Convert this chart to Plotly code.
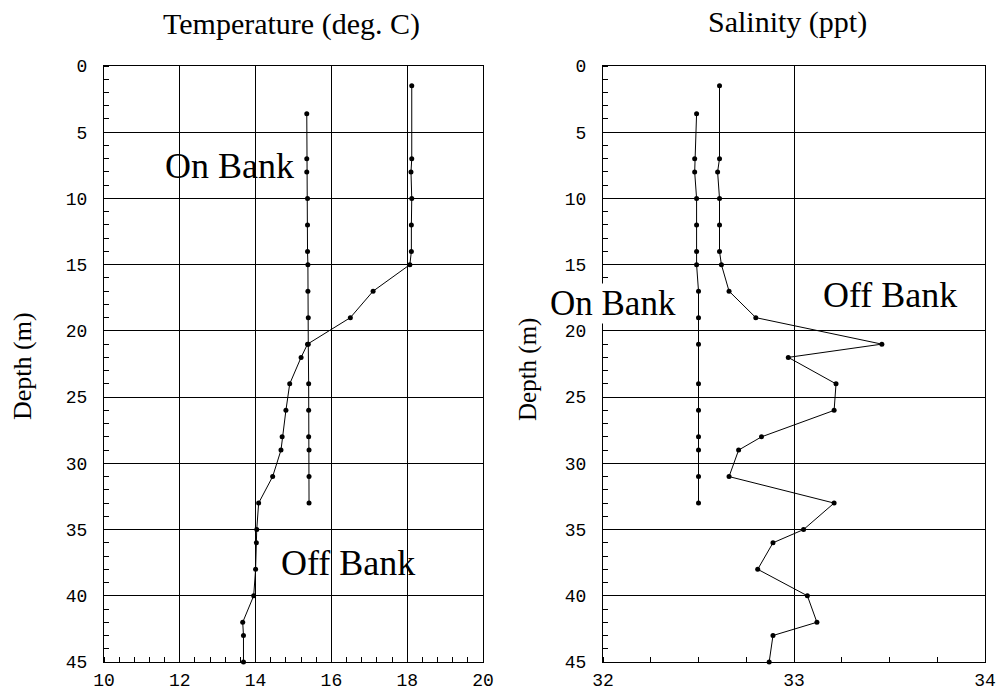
import plotly.graph_objects as go

# Temperature profiles (deg. C) against depth (m)
temp_on_depth = [3.6, 7, 8, 10, 12, 14, 15, 17, 19, 21, 24, 26, 28, 29, 31, 33]
temp_on = [15.35, 15.35, 15.35, 15.37, 15.37, 15.37, 15.38, 15.38, 15.39, 15.39,
           15.40, 15.40, 15.40, 15.41, 15.41, 15.41]

temp_off_depth = [1.5, 7, 8, 10, 12, 14, 15, 17, 19, 21, 22, 24, 26, 28, 29, 31,
                  33, 35, 36, 38, 40, 42, 43, 45]
temp_off = [18.12, 18.12, 18.10, 18.12, 18.11, 18.11, 18.07, 17.10, 16.50, 15.37,
            15.20, 14.90, 14.80, 14.70, 14.67, 14.45, 14.08, 14.03, 14.02, 14.00,
            13.95, 13.66, 13.68, 13.68]

# Salinity profiles (ppt) against depth (m)
sal_on_depth = [3.6, 7, 8, 10, 12, 14, 15, 17, 19, 21, 24, 26, 28, 29, 31, 33]
sal_on = [32.49, 32.48, 32.48, 32.49, 32.49, 32.49, 32.49, 32.50, 32.50, 32.50,
          32.50, 32.50, 32.50, 32.50, 32.50, 32.50]

sal_off_depth = [1.5, 7, 8, 10, 12, 14, 15, 17, 19, 21, 22, 24, 26, 28, 29, 31,
                 33, 35, 36, 38, 40, 42, 43, 45]
sal_off = [32.61, 32.61, 32.60, 32.61, 32.61, 32.61, 32.62, 32.66, 32.80, 33.46,
           32.97, 33.22, 33.21, 32.83, 32.71, 32.66, 33.21, 33.05, 32.89, 32.81,
           33.07, 33.12, 32.89, 32.87]

depth_ticks = [0, 5, 10, 15, 20, 25, 30, 35, 40, 45]
temp_ticks = [10, 12, 14, 16, 18, 20]
sal_ticks = [32, 33, 34]

W, H = 998, 691
SERIF = "Liberation Serif, Times New Roman, serif"
MONO = "Liberation Mono, DejaVu Sans Mono, monospace"


def px(x):
    return x / W


def py(y):
    return 1 - y / H


line_style = dict(color="black", width=1)
marker_style = dict(color="black", size=5, symbol="circle")

fig = go.Figure()
for xs, ys, xa, ya in [
    (temp_on, temp_on_depth, "x", "y"),
    (temp_off, temp_off_depth, "x", "y"),
    (sal_on, sal_on_depth, "x2", "y2"),
    (sal_off, sal_off_depth, "x2", "y2"),
]:
    fig.add_trace(go.Scatter(x=xs, y=ys, xaxis=xa, yaxis=ya, mode="lines+markers",
                             line=line_style, marker=marker_style,
                             showlegend=False, cliponaxis=False))

y_dom = [py(662), py(66)]
common_axis = dict(showline=True, linecolor="black", linewidth=1, mirror=True,
                   showgrid=True, gridcolor="black", gridwidth=1,
                   zeroline=False, ticks="", automargin=False,
                   tickfont=dict(family=MONO, size=18, color="black"))

fig.update_layout(
    width=W, height=H,
    margin=dict(l=0, r=0, t=0, b=0),
    paper_bgcolor="white", plot_bgcolor="white",
    xaxis=dict(common_axis, domain=[px(104), px(483)], range=[10, 20],
               tickvals=temp_ticks, ticklabelstandoff=1,
               minor=dict(dtick=0.4, tick0=10, ticks="inside", ticklen=5,
                          tickcolor="black", showgrid=False),
               anchor="y"),
    yaxis=dict(common_axis, domain=y_dom, range=[45, 0], tickvals=depth_ticks,
               ticklabelstandoff=12,
               minor=dict(dtick=1, tick0=0, ticks="inside", ticklen=5,
                          tickcolor="black", showgrid=False),
               anchor="x"),
    xaxis2=dict(common_axis, domain=[px(603), px(985)], range=[32, 34],
                tickvals=sal_ticks, ticklabelstandoff=1,
                minor=dict(dtick=0.25, tick0=32, ticks="inside", ticklen=5,
                           tickcolor="black", showgrid=False),
                anchor="y2"),
    yaxis2=dict(common_axis, domain=y_dom, range=[45, 0], tickvals=depth_ticks,
                ticklabelstandoff=12,
                minor=dict(dtick=1, tick0=0, ticks="inside", ticklen=5,
                           tickcolor="black", showgrid=False),
                anchor="x2"),
)


def label(text, x, y, size, angle=0, bg=None):
    fig.add_annotation(text=text, x=px(x), y=py(y), xref="paper", yref="paper",
                       xanchor="center", yanchor="middle", showarrow=False,
                       textangle=angle, borderpad=0,
                       bgcolor=bg if bg else "rgba(0,0,0,0)",
                       font=dict(family=SERIF, size=size, color="black"))


# Panel titles and axis labels
label("Temperature (deg. C)", 291, 24, 30)
label("Salinity (ppt)", 787, 22, 30)
label("Depth (m)", 528, 370, 25, angle=-90)
label("Depth (m)", 22, 366, 26, angle=-90)

# Station labels
label("On Bank", 229, 166, 36)
label("Off Bank", 348, 563, 36)
label("On Bank", 613, 303, 35, bg="white")
label("Off Bank", 890, 295, 36, bg="white")

fig.write_html("out.html")
